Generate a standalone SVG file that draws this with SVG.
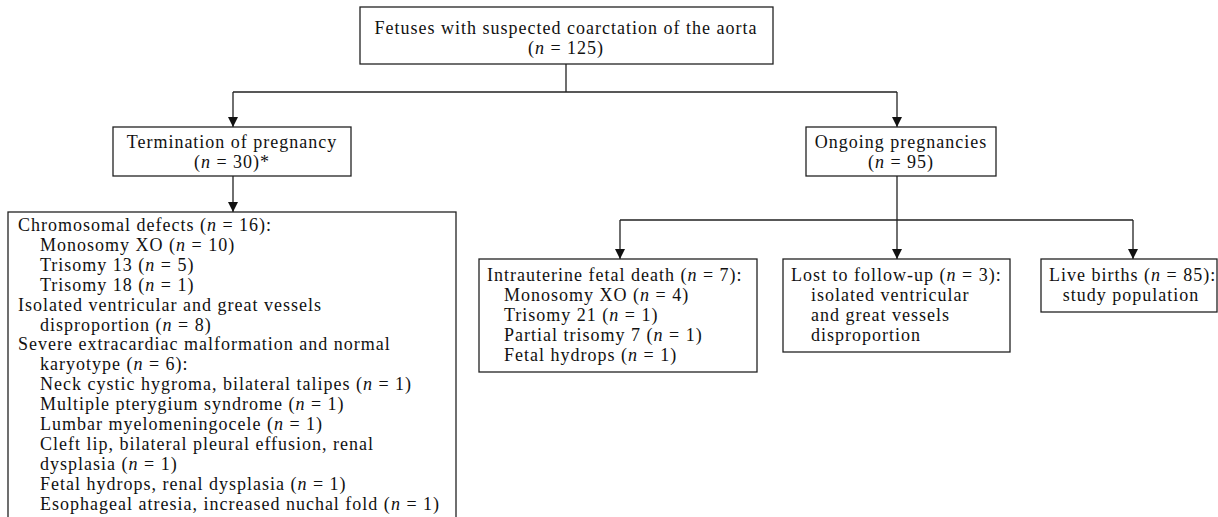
<svg xmlns="http://www.w3.org/2000/svg" width="1218" height="517" viewBox="0 0 1218 517">
<style>
text{font-family:"Liberation Serif","Times New Roman",serif;font-size:18px;letter-spacing:1px;fill:#111}
.c{text-anchor:middle}
.i{font-style:italic}
.box{fill:#fff;stroke:#222;stroke-width:1.3}
.ln{fill:none;stroke:#222;stroke-width:1.3}
</style>
<defs>
<marker id="ah" viewBox="0 0 10 10" refX="10" refY="5" markerWidth="10" markerHeight="10" markerUnits="userSpaceOnUse" orient="auto">
<path d="M0,0 L10,5 L0,10 z" fill="#111"/>
</marker>
</defs>
<rect width="1218" height="517" fill="#fff"/>
<g id="connectors">
<path class="ln" d="M566,64 V92 M233,92 H897"/>
<path class="ln" d="M233,92 V127" marker-end="url(#ah)"/>
<path class="ln" d="M897,92 V127" marker-end="url(#ah)"/>
<path class="ln" d="M233,176 V212" marker-end="url(#ah)"/>
<path class="ln" d="M897,176 V220 M620,220 H1133"/>
<path class="ln" d="M620,220 V259" marker-end="url(#ah)"/>
<path class="ln" d="M897,220 V259" marker-end="url(#ah)"/>
<path class="ln" d="M1133,220 V259" marker-end="url(#ah)"/>
</g>
<g id="root">
<rect class="box" x="360" y="7" width="413" height="57"/>
<text class="c" x="566" y="34">Fetuses with suspected coarctation of the aorta</text>
<text class="c" x="566" y="54">(<tspan class="i">n</tspan> = 125)</text>
</g>
<g id="termination">
<rect class="box" x="113" y="127" width="238" height="49"/>
<text class="c" x="232" y="148">Termination of pregnancy</text>
<text class="c" x="232" y="168">(<tspan class="i">n</tspan> = 30)*</text>
</g>
<g id="ongoing">
<rect class="box" x="806" y="127" width="190" height="49"/>
<text class="c" x="901" y="148">Ongoing pregnancies</text>
<text class="c" x="901" y="168">(<tspan class="i">n</tspan> = 95)</text>
</g>
<g id="top-details">
<rect class="box" x="8" y="212" width="448" height="310"/>
<text x="18" y="231">Chromosomal defects (<tspan class="i">n</tspan> = 16):</text>
<text x="40" y="250.9">Monosomy XO (<tspan class="i">n</tspan> = 10)</text>
<text x="40" y="270.8">Trisomy 13 (<tspan class="i">n</tspan> = 5)</text>
<text x="40" y="290.7">Trisomy 18 (<tspan class="i">n</tspan> = 1)</text>
<text x="18" y="310.6">Isolated ventricular and great vessels</text>
<text x="40" y="330.5">disproportion (<tspan class="i">n</tspan> = 8)</text>
<text x="18" y="350.4">Severe extracardiac malformation and normal</text>
<text x="40" y="370.3">karyotype (<tspan class="i">n</tspan> = 6):</text>
<text x="40" y="390.2">Neck cystic hygroma, bilateral talipes (<tspan class="i">n</tspan> = 1)</text>
<text x="40" y="410.1">Multiple pterygium syndrome (<tspan class="i">n</tspan> = 1)</text>
<text x="40" y="430">Lumbar myelomeningocele (<tspan class="i">n</tspan> = 1)</text>
<text x="40" y="449.9">Cleft lip, bilateral pleural effusion, renal</text>
<text x="40" y="469.8">dysplasia (<tspan class="i">n</tspan> = 1)</text>
<text x="40" y="489.7">Fetal hydrops, renal dysplasia (<tspan class="i">n</tspan> = 1)</text>
<text x="40" y="509.6">Esophageal atresia, increased nuchal fold (<tspan class="i">n</tspan> = 1)</text>
</g>
<g id="iufd">
<rect class="box" x="479" y="259" width="278" height="113"/>
<text x="487" y="281">Intrauterine fetal death (<tspan class="i">n</tspan> = 7):</text>
<text x="504" y="301">Monosomy XO (<tspan class="i">n</tspan> = 4)</text>
<text x="504" y="321">Trisomy 21 (<tspan class="i">n</tspan> = 1)</text>
<text x="504" y="341">Partial trisomy 7 (<tspan class="i">n</tspan> = 1)</text>
<text x="504" y="361">Fetal hydrops (<tspan class="i">n</tspan> = 1)</text>
</g>
<g id="lost">
<rect class="box" x="783" y="259" width="227" height="93"/>
<text x="791" y="281">Lost to follow-up (<tspan class="i">n</tspan> = 3):</text>
<text x="811" y="301">isolated ventricular</text>
<text x="811" y="321">and great vessels</text>
<text x="811" y="341">disproportion</text>
</g>
<g id="live">
<rect class="box" x="1041" y="259" width="176" height="53"/>
<text x="1049" y="281">Live births (<tspan class="i">n</tspan> = 85):</text>
<text class="c" x="1131" y="301">study population</text>
</g>
</svg>
